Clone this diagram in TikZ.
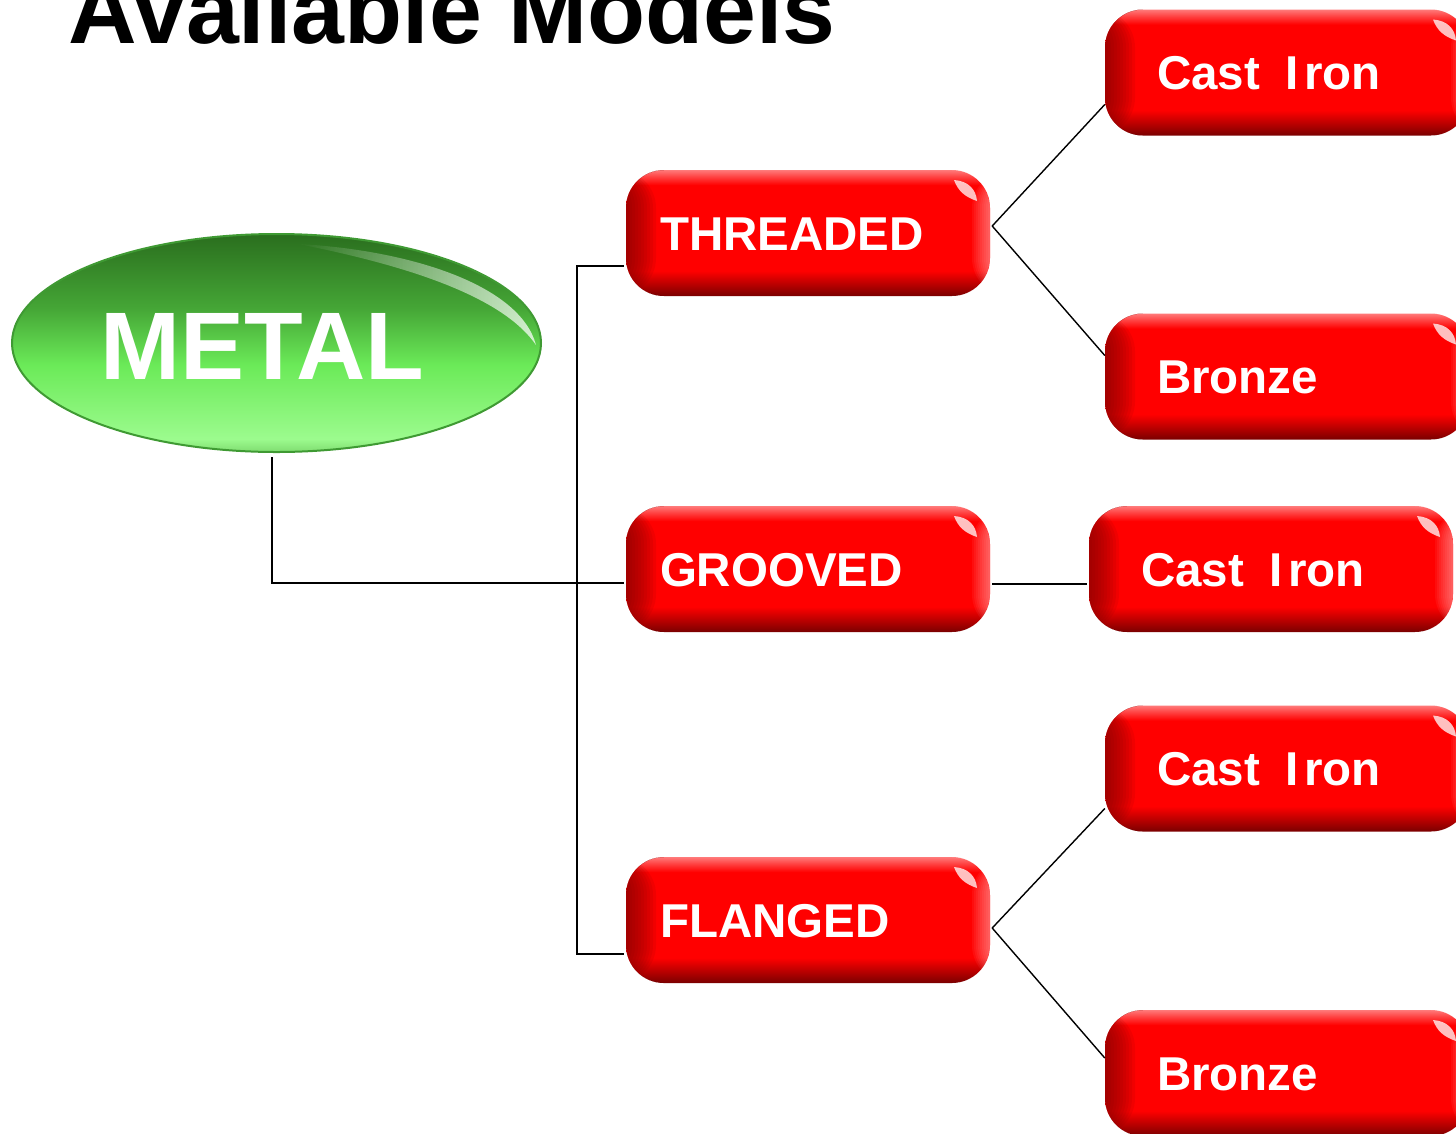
\documentclass[tikz,border=0pt]{standalone}
\usepackage{fontspec}
\setmainfont{Liberation Sans}
\usepackage{xcolor}
\definecolor{rojoOsc}{HTML}{7A0000}
\definecolor{rojoMed}{HTML}{B00000}
\definecolor{rojoBase}{HTML}{FF0000}
\definecolor{rojoLuz}{HTML}{FF3A3A}
\definecolor{rojoBri}{HTML}{FF7A7A}
\definecolor{verdeTop}{HTML}{2A6E1E}
\definecolor{verdeUp}{HTML}{45A636}
\definecolor{verdeMid}{HTML}{6BEA58}
\definecolor{verdeBot}{HTML}{9CFB8E}
\definecolor{verdeRim}{HTML}{7FDC70}
\definecolor{verdeBorde}{HTML}{3F9A33}
\usepackage{tikz}
\usetikzlibrary{calc,fadings,shapes.geometric}
\pgfdeclareverticalshading{btnred}{100bp}{color(0bp)=(rojoOsc); color(25bp)=(rojoOsc);
  color(29bp)=(rojoMed); color(35bp)=(rojoBase); color(69bp)=(rojoBase);
  color(72bp)=(rojoLuz); color(75bp)=(rojoBri); color(100bp)=(rojoBri)}
\pgfdeclareverticalshading{btngreen}{100bp}{color(0bp)=(verdeRim); color(25bp)=(verdeRim);
  color(28bp)=(verdeBot); color(45bp)=(verdeMid); color(58bp)=(verdeUp);
  color(75bp)=(verdeTop); color(100bp)=(verdeTop)}

\begin{document}
\begin{tikzpicture}[x=1pt,y=-1pt,
  btn/.style={rounded corners=38pt,shading=btnred,minimum height=126pt,
    text height=34pt,text depth=0pt,align=left,text=white,
    font=\fontsize{47.5}{50}\selectfont\bfseries,
    path picture={
      \foreach \w in {3,6,...,30}
        \fill[rojoOsc,opacity=0.1] (path picture bounding box.south west)
          rectangle ([xshift=\w pt]path picture bounding box.north west);
      \foreach \w in {2,4,...,18}
        \fill[white,opacity=0.05] ([xshift=-\w pt]path picture bounding box.south east)
          rectangle (path picture bounding box.north east);
      \coordinate (gl) at ([xshift=-24pt,yshift=-20pt]path picture bounding box.north east);
      \fill[white,opacity=0.75,rounded corners=0pt] ([xshift=-12pt,yshift=10pt]gl)
        .. controls ([xshift=2pt,yshift=9pt]gl) and ([xshift=10pt,yshift=1pt]gl)
        .. ([xshift=11pt,yshift=-11pt]gl)
        .. controls ([xshift=-1pt,yshift=-7pt]gl) and ([xshift=-8pt,yshift=-1pt]gl)
        .. cycle;}},
  lbtn/.style={btn,text width=296pt,inner xsep=34pt},
  rbtn/.style={btn,text width=260pt,inner xsep=52pt},
  hub/.style={ellipse,shading=btngreen,draw=verdeBorde,line width=2pt,
    minimum width=529pt,minimum height=218pt,inner sep=0},
  link/.style={line width=2.8pt,shorten >=2pt},
  twig/.style={line width=1.4pt}]
  \clip (0,0) rectangle (1456,1133);
  \node[anchor=base west,inner sep=0,font=\fontsize{95}{100}\selectfont\bfseries]
    (title) at (68,43) {Available Models};
  % green root
  \node[hub,label={[text=white,inner sep=0,text height=68pt,text depth=0pt,
    xshift=-14pt,yshift=-2pt,font=\fontsize{96}{100}\selectfont\bfseries]center:METAL}]
    (metal) at (276.5,343) {};
  \fill[white,opacity=0.75,path fading=west] (298,244)
    .. controls (410,250) and (520,285) .. (536,345)
    .. controls (505,300) and (420,268) .. (298,244) -- cycle;
  % connection types
  \node[lbtn] (thr) at (808,233) {THREADED};
  \node[lbtn] (grv) at (808,569) {GROOVED};
  \node[lbtn] (flg) at (808,920) {FLANGED};
  % materials
  \node[rbtn] (thrci) at (1287,72.5) {Cast\hspace{0.2em} I\hspace{0.12em}ron};
  \node[rbtn] (thrbr) at (1287,376.5) {Bronze};
  \node[rbtn] (grvci) at (1271,569) {Cast\hspace{0.2em} I\hspace{0.12em}ron};
  \node[rbtn] (flgci) at (1287,768.5) {Cast\hspace{0.2em} I\hspace{0.12em}ron};
  \node[rbtn] (flgbr) at (1287,1073) {Bronze};
  \coordinate (bus) at (577,583);
  \draw[link] ([xshift=-4.5pt,yshift=-4pt]metal.south) |- ([yshift=-14pt]grv.west);
  \draw[link,shorten <=2pt] ([yshift=-33pt]thr.west) -| (bus)
    |- ([yshift=-34pt]flg.west);
  \draw[twig] ([xshift=2pt,yshift=7pt]thr.east) -- ([yshift=-32pt]thrci.west);
  \draw[twig] ([xshift=2pt,yshift=7pt]thr.east) -- ([yshift=21pt]thrbr.west);
  \draw[link,shorten <=2pt] ([yshift=-15pt]grv.east) -- ([yshift=-15pt]grvci.west);
  \draw[twig] ([xshift=2pt,yshift=-8pt]flg.east) -- ([yshift=-40pt]flgci.west);
  \draw[twig] ([xshift=2pt,yshift=-8pt]flg.east) -- ([yshift=15pt]flgbr.west);
\end{tikzpicture}
\end{document}
